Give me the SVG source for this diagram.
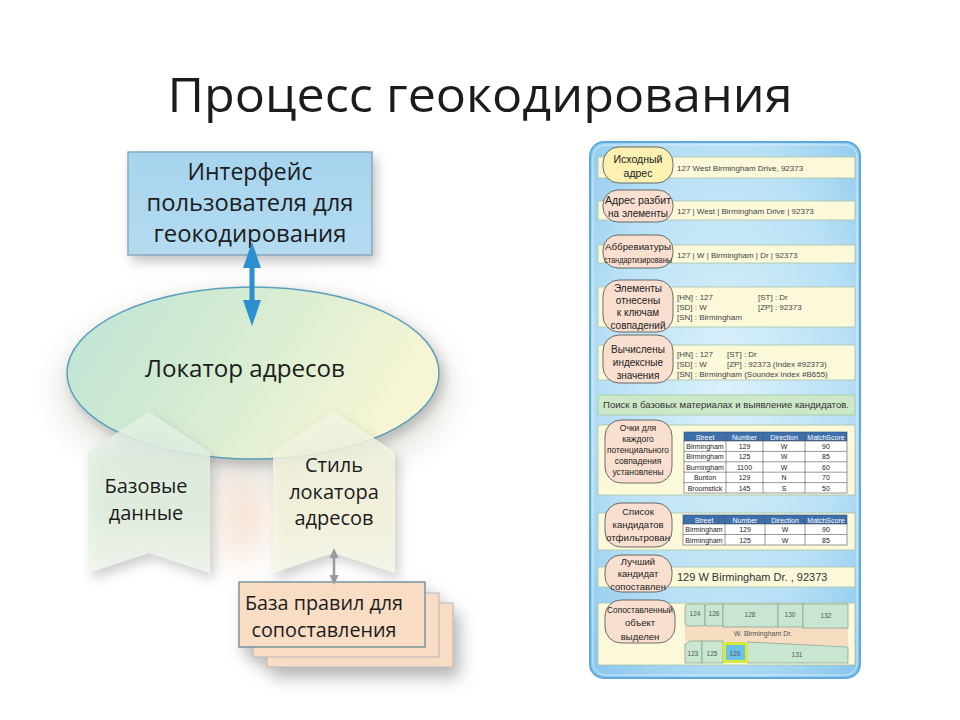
<svg xmlns="http://www.w3.org/2000/svg" width="960" height="720" viewBox="0 0 960 720">
<defs>
<style>
.t{font-family:"Open Sans","Liberation Sans",sans-serif;fill:#1c1c1c}
.s{font-family:"Liberation Sans","Open Sans",sans-serif}
.lb{font-family:"Liberation Sans","Open Sans",sans-serif;text-anchor:middle;fill:#222}
.bub{fill:#f9dfcf;stroke:#4a4a4a;stroke-width:0.8}
.bar{fill:#fcf8da;stroke:#a9c3a8;stroke-width:0.8}
.dt{font-family:"Liberation Sans",sans-serif;font-size:8px;fill:#444}
.th{fill:#3d70ab;stroke:#2a4f80;stroke-width:0.6}
.td{fill:#fff;stroke:#555;stroke-width:0.6}
.tht{font-family:"Liberation Sans",sans-serif;font-size:7px;fill:#fff;text-anchor:middle}
.tdt{font-family:"Liberation Sans",sans-serif;font-size:7px;fill:#222;text-anchor:middle}
.par{fill:#c9e6d3;stroke:#7e9c8a;stroke-width:0.7}
.pt{font-family:"Liberation Sans",sans-serif;font-size:6.5px;fill:#555;text-anchor:middle}
</style>
<linearGradient id="gBox" x1="0" y1="0" x2="0" y2="1"><stop offset="0" stop-color="#a6d4ee"/><stop offset="1" stop-color="#b4dbf0"/></linearGradient>
<linearGradient id="gEl" x1="0" y1="0" x2="1" y2="0.3"><stop offset="0" stop-color="#bde3d6"/><stop offset="0.5" stop-color="#d6ecd2"/><stop offset="1" stop-color="#f6f6d4"/></linearGradient>
<linearGradient id="gP1" x1="0" y1="0" x2="0" y2="1"><stop offset="0" stop-color="#e4f2e6"/><stop offset="0.6" stop-color="#e0f0de"/><stop offset="1" stop-color="#f2f8ee"/></linearGradient>
<linearGradient id="gP2" x1="0" y1="0" x2="0" y2="1"><stop offset="0" stop-color="#f3f6e4"/><stop offset="0.6" stop-color="#f5f4da"/><stop offset="1" stop-color="#f8f8ea"/></linearGradient>
<radialGradient id="gPanel" cx="0.5" cy="0.45" r="0.75"><stop offset="0" stop-color="#dbf1fb"/><stop offset="0.6" stop-color="#b8e0f5"/><stop offset="1" stop-color="#84c4ec"/></radialGradient>
<radialGradient id="gGlow" cx="0.5" cy="0.5" r="0.5"><stop offset="0" stop-color="#efcfb4" stop-opacity="0.75"/><stop offset="1" stop-color="#efcfb4" stop-opacity="0"/></radialGradient>
<filter id="sh" x="-20%" y="-20%" width="150%" height="160%"><feDropShadow dx="4" dy="6" stdDeviation="6" flood-color="#7a7a7a" flood-opacity="0.45"/></filter>
<filter id="sh2" x="-20%" y="-20%" width="150%" height="170%"><feDropShadow dx="6" dy="10" stdDeviation="8" flood-color="#6a6a6a" flood-opacity="0.5"/></filter>
<filter id="bl" x="-50%" y="-50%" width="200%" height="200%"><feGaussianBlur stdDeviation="14"/></filter>
<marker id="ab" viewBox="0 0 26 18" refX="18" refY="9" markerWidth="26" markerHeight="18" markerUnits="userSpaceOnUse" orient="auto-start-reverse"><path d="M0,0 L26,9 L0,18 z" fill="#2b8fd0"/></marker>
<marker id="ag" viewBox="0 0 10 9" refX="5" refY="4.5" markerWidth="10" markerHeight="9" markerUnits="userSpaceOnUse" orient="auto-start-reverse"><path d="M0,0 L10,4.5 L0,9 z" fill="#9a9aa2"/></marker>
</defs>
<rect width="960" height="720" fill="#ffffff"/>

<text class="t" x="480" y="112" font-size="48" text-anchor="middle" textLength="625" lengthAdjust="spacingAndGlyphs">Процесс геокодирования</text>

<!-- soft background glow -->
<ellipse cx="255" cy="390" rx="200" ry="100" fill="#d8d8d0" opacity="0.5" filter="url(#bl)"/>
<rect x="200" y="455" width="85" height="125" fill="url(#gGlow)" filter="url(#bl)"/>

<g id="interface">
<rect x="128" y="152" width="244" height="103" fill="url(#gBox)" stroke="#8aa9bb" stroke-width="1.5" filter="url(#sh)"/>
<text class="t" x="250" y="180" font-size="23" text-anchor="middle">Интерфейс</text>
<text class="t" x="250" y="211" font-size="23" text-anchor="middle" textLength="207" lengthAdjust="spacingAndGlyphs">пользователя для</text>
<text class="t" x="250" y="242" font-size="23" text-anchor="middle" textLength="193" lengthAdjust="spacingAndGlyphs">геокодирования</text>
</g>

<g id="locator">
<ellipse cx="253" cy="373" rx="186" ry="86" fill="url(#gEl)" stroke="#5aa0bc" stroke-width="1.5" filter="url(#sh)"/>
<text class="t" x="245" y="377" font-size="23" text-anchor="middle" textLength="200" lengthAdjust="spacingAndGlyphs">Локатор адресов</text>
</g>

<g id="base-data">
<polygon points="88,452 149,412 210,452 210,573 149,553 88,573" fill="url(#gP1)" fill-opacity="0.82" filter="url(#sh)"/>
<text class="t" x="146" y="493" font-size="20" text-anchor="middle">Базовые</text>
<text class="t" x="146" y="520" font-size="20" text-anchor="middle">данные</text>
</g>

<g id="locator-style">
<polygon points="273,452 334,412 395,452 395,573 334,553 273,573" fill="url(#gP2)" fill-opacity="0.82" filter="url(#sh)"/>
<text class="t" x="334" y="472" font-size="20" text-anchor="middle">Стиль</text>
<text class="t" x="334" y="499" font-size="20" text-anchor="middle">локатора</text>
<text class="t" x="334" y="525" font-size="20" text-anchor="middle">адресов</text>
</g>

<g id="rules">
<g filter="url(#sh2)">
<rect x="267" y="603" width="186" height="64" fill="#f8dcc4" stroke="#b8b8b8" stroke-width="1"/>
<rect x="253" y="593" width="186" height="64" fill="#f8dcc4" stroke="#b8b8b8" stroke-width="1"/>
<rect x="239" y="582" width="186" height="65" fill="#f8dcc4" stroke="#5e8090" stroke-width="1.2"/>
</g>
<text class="t" x="324" y="610" font-size="20" text-anchor="middle" textLength="158" lengthAdjust="spacingAndGlyphs">База правил для</text>
<text class="t" x="324" y="637" font-size="20" text-anchor="middle" textLength="145" lengthAdjust="spacingAndGlyphs">сопоставления</text>
</g>

<g id="connectors">
<line x1="252" y1="250" x2="252" y2="318" stroke="#2b8fd0" stroke-width="5" marker-start="url(#ab)" marker-end="url(#ab)"/>
<line x1="334" y1="553" x2="334" y2="580" stroke="#9a9aa2" stroke-width="2.5" marker-start="url(#ag)" marker-end="url(#ag)"/>
</g>

<!-- right panel -->
<g id="process-panel">
<rect x="590" y="142" width="270" height="536" rx="14" fill="url(#gPanel)" stroke="#5eaadf" stroke-width="2"/>
<rect x="593" y="145" width="264" height="530" rx="12" fill="none" stroke="#e8f6fd" stroke-width="1" opacity="0.7"/>
</g>

<g id="step1">
<rect class="bar" x="598" y="157" width="257" height="21"/>
<rect x="603" y="147" width="70" height="36" rx="16" fill="#fbf1b2" stroke="#4a4a4a" stroke-width="0.8"/>
<text class="lb" x="638" y="163" font-size="10.5">Исходный</text>
<text class="lb" x="638" y="177" font-size="10.5">адрес</text>
<text class="dt" x="677" y="171">127 West Birmingham Drive, 92373</text>
</g>

<g id="step2">
<rect class="bar" x="598" y="201" width="257" height="19"/>
<rect class="bub" x="603" y="190" width="70" height="32" rx="15"/>
<text class="lb" x="638" y="204" font-size="10" textLength="66" lengthAdjust="spacingAndGlyphs">Адрес разбит</text>
<text class="lb" x="638" y="217" font-size="10">на элементы</text>
<text class="dt" x="677" y="214">127 | West | Birmingham  Drive | 92373</text>
</g>

<g id="step3">
<rect class="bar" x="598" y="245" width="257" height="18"/>
<rect class="bub" x="603" y="235" width="70" height="33" rx="15"/>
<text class="lb" x="638" y="250" font-size="9" textLength="66" lengthAdjust="spacingAndGlyphs">Аббревиатуры</text>
<text class="lb" x="638" y="263" font-size="9" textLength="68" lengthAdjust="spacingAndGlyphs">стандартизированы</text>
<text class="dt" x="677" y="258">127 | W | Birmingham | Dr | 92373</text>
</g>

<g id="step4">
<rect class="bar" x="598" y="287" width="257" height="40"/>
<rect class="bub" x="603" y="280" width="70" height="52" rx="16"/>
<text class="lb" x="638" y="292" font-size="10">Элементы</text>
<text class="lb" x="638" y="304" font-size="10">отнесены</text>
<text class="lb" x="638" y="316" font-size="10">к ключам</text>
<text class="lb" x="638" y="329" font-size="10">совпадений</text>
<text class="dt" x="677" y="300">[HN] : 127</text>
<text class="dt" x="677" y="310">[SD] : W</text>
<text class="dt" x="677" y="320">[SN] : Birmingham</text>
<text class="dt" x="758" y="300">[ST] : Dr</text>
<text class="dt" x="758" y="310">[ZP] : 92373</text>
</g>

<g id="step5">
<rect class="bar" x="598" y="345" width="257" height="35"/>
<rect class="bub" x="603" y="335" width="70" height="48" rx="16"/>
<text class="lb" x="638" y="353" font-size="10">Вычислены</text>
<text class="lb" x="638" y="366" font-size="10">индексные</text>
<text class="lb" x="638" y="379" font-size="10">значения</text>
<text class="dt" x="677" y="357">[HN] : 127</text>
<text class="dt" x="677" y="367">[SD] : W</text>
<text class="dt" x="677" y="377">[SN] : Birmingham  (Soundex index #B655)</text>
<text class="dt" x="727" y="357">[ST] : Dr</text>
<text class="dt" x="727" y="367">[ZP] : 92373 (Index #92373)</text>
</g>

<g id="search">
<rect x="598" y="395" width="257" height="20" fill="#cde8c9" stroke="#a3c9a3" stroke-width="0.8"/>
<text class="s" x="726" y="408" font-size="8.5" fill="#333" text-anchor="middle" textLength="246" lengthAdjust="spacingAndGlyphs">Поиск в базовых материалах и выявление кандидатов.</text>
</g>

<g id="step6">
<rect class="bar" x="598" y="425" width="257" height="70"/>
<rect class="bub" x="605" y="420" width="67" height="63" rx="16"/>
<text class="lb" x="638" y="431" font-size="8.5">Очки для</text>
<text class="lb" x="638" y="442" font-size="8.5">каждого</text>
<text class="lb" x="638" y="453" font-size="8.5" textLength="62" lengthAdjust="spacingAndGlyphs">потенциального</text>
<text class="lb" x="638" y="464" font-size="8.5">совпадения</text>
<text class="lb" x="638" y="475" font-size="8.5">установлены</text>
<rect class="th" x="684" y="432" width="163" height="9"/>
<rect class="td" x="684" y="441" width="163" height="52"/>
<path d="M684,451.4 H847 M684,461.8 H847 M684,472.2 H847 M684,482.6 H847 M726,432 V493 M763,432 V493 M805,432 V493" stroke="#555" stroke-width="0.6" fill="none"/>
<text class="tht" x="705" y="439.5">Street</text>
<text class="tht" x="744.5" y="439.5">Number</text>
<text class="tht" x="784" y="439.5">Direction</text>
<text class="tht" x="826" y="439.5">MatchScore</text>
<text class="tdt" x="705" y="449">Birmingham</text><text class="tdt" x="744.5" y="449">129</text><text class="tdt" x="784" y="449">W</text><text class="tdt" x="826" y="449">90</text>
<text class="tdt" x="705" y="459.4">Birmingham</text><text class="tdt" x="744.5" y="459.4">125</text><text class="tdt" x="784" y="459.4">W</text><text class="tdt" x="826" y="459.4">85</text>
<text class="tdt" x="705" y="469.8">Burningham</text><text class="tdt" x="744.5" y="469.8">1100</text><text class="tdt" x="784" y="469.8">W</text><text class="tdt" x="826" y="469.8">60</text>
<text class="tdt" x="705" y="480.2">Bunton</text><text class="tdt" x="744.5" y="480.2">129</text><text class="tdt" x="784" y="480.2">N</text><text class="tdt" x="826" y="480.2">70</text>
<text class="tdt" x="705" y="490.6">Broomstick</text><text class="tdt" x="744.5" y="490.6">145</text><text class="tdt" x="784" y="490.6">S</text><text class="tdt" x="826" y="490.6">50</text>
</g>

<g id="step7">
<rect class="bar" x="598" y="513" width="257" height="37"/>
<rect class="bub" x="605" y="503" width="67" height="44" rx="16"/>
<text class="lb" x="638" y="515" font-size="9.5">Список</text>
<text class="lb" x="638" y="528" font-size="9.5">кандидатов</text>
<text class="lb" x="638" y="541" font-size="9.5" textLength="64" lengthAdjust="spacingAndGlyphs">отфильтрован</text>
<rect class="th" x="683" y="515" width="164" height="9"/>
<rect class="td" x="683" y="524" width="164" height="21"/>
<path d="M683,534.5 H847 M725,515 V545 M765,515 V545 M805,515 V545" stroke="#555" stroke-width="0.6" fill="none"/>
<text class="tht" x="704" y="522.5">Street</text>
<text class="tht" x="745" y="522.5">Number</text>
<text class="tht" x="785" y="522.5">Direction</text>
<text class="tht" x="826" y="522.5">MatchScore</text>
<text class="tdt" x="704" y="532">Birmingham</text><text class="tdt" x="745" y="532">129</text><text class="tdt" x="785" y="532">W</text><text class="tdt" x="826" y="532">90</text>
<text class="tdt" x="704" y="542.5">Birmingham</text><text class="tdt" x="745" y="542.5">125</text><text class="tdt" x="785" y="542.5">W</text><text class="tdt" x="826" y="542.5">85</text>
</g>

<g id="step8">
<rect class="bar" x="598" y="567" width="257" height="20"/>
<rect class="bub" x="605" y="555" width="67" height="37" rx="16"/>
<text class="lb" x="638" y="565" font-size="9.5">Лучший</text>
<text class="lb" x="638" y="577" font-size="9.5">кандидат</text>
<text class="lb" x="638" y="590" font-size="9.5">сопоставлен</text>
<text class="s" x="677" y="581" font-size="11" fill="#333">129 W Birmingham Dr. , 92373</text>
</g>

<g id="step9">
<rect class="bar" x="598" y="603" width="257" height="62"/>
<rect class="bub" x="605" y="600" width="70" height="43" rx="16"/>
<text class="lb" x="640" y="613" font-size="9.5" textLength="66" lengthAdjust="spacingAndGlyphs">Сопоставленный</text>
<text class="lb" x="640" y="626" font-size="9.5">объект</text>
<text class="lb" x="640" y="640" font-size="9.5">выделен</text>
<polygon points="685,626 848,628 848,646 685,641" fill="#f6dcc0"/>
<rect class="par" x="685" y="604" width="20" height="22" rx="3"/>
<rect class="par" x="705" y="604" width="18" height="22"/>
<rect class="par" x="723" y="604" width="55" height="23"/>
<rect class="par" x="778" y="604" width="25" height="23"/>
<rect class="par" x="803" y="604" width="45" height="24"/>
<text class="pt" x="695" y="616">124</text>
<text class="pt" x="714" y="616">126</text>
<text class="pt" x="750" y="617">128</text>
<text class="pt" x="790" y="617">130</text>
<text class="pt" x="826" y="618">132</text>
<text class="s" x="763" y="636" font-size="7" fill="#555" text-anchor="middle">W. Birmingham Dr.</text>
<polygon class="par" points="685,644 690,641 702,641 702,663 685,663"/>
<rect class="par" x="702" y="641" width="21" height="22"/>
<polygon class="par" points="747,642 848,647 848,663 747,663"/>
<rect x="724.5" y="643.5" width="22" height="18" fill="#6cbfe9" stroke="#d6e93c" stroke-width="3"/>
<text class="pt" x="693" y="656">123</text>
<text class="pt" x="712" y="656">125</text>
<text class="pt" x="735" y="656">129</text>
<text class="pt" x="797" y="657">131</text>
</g>
</svg>
